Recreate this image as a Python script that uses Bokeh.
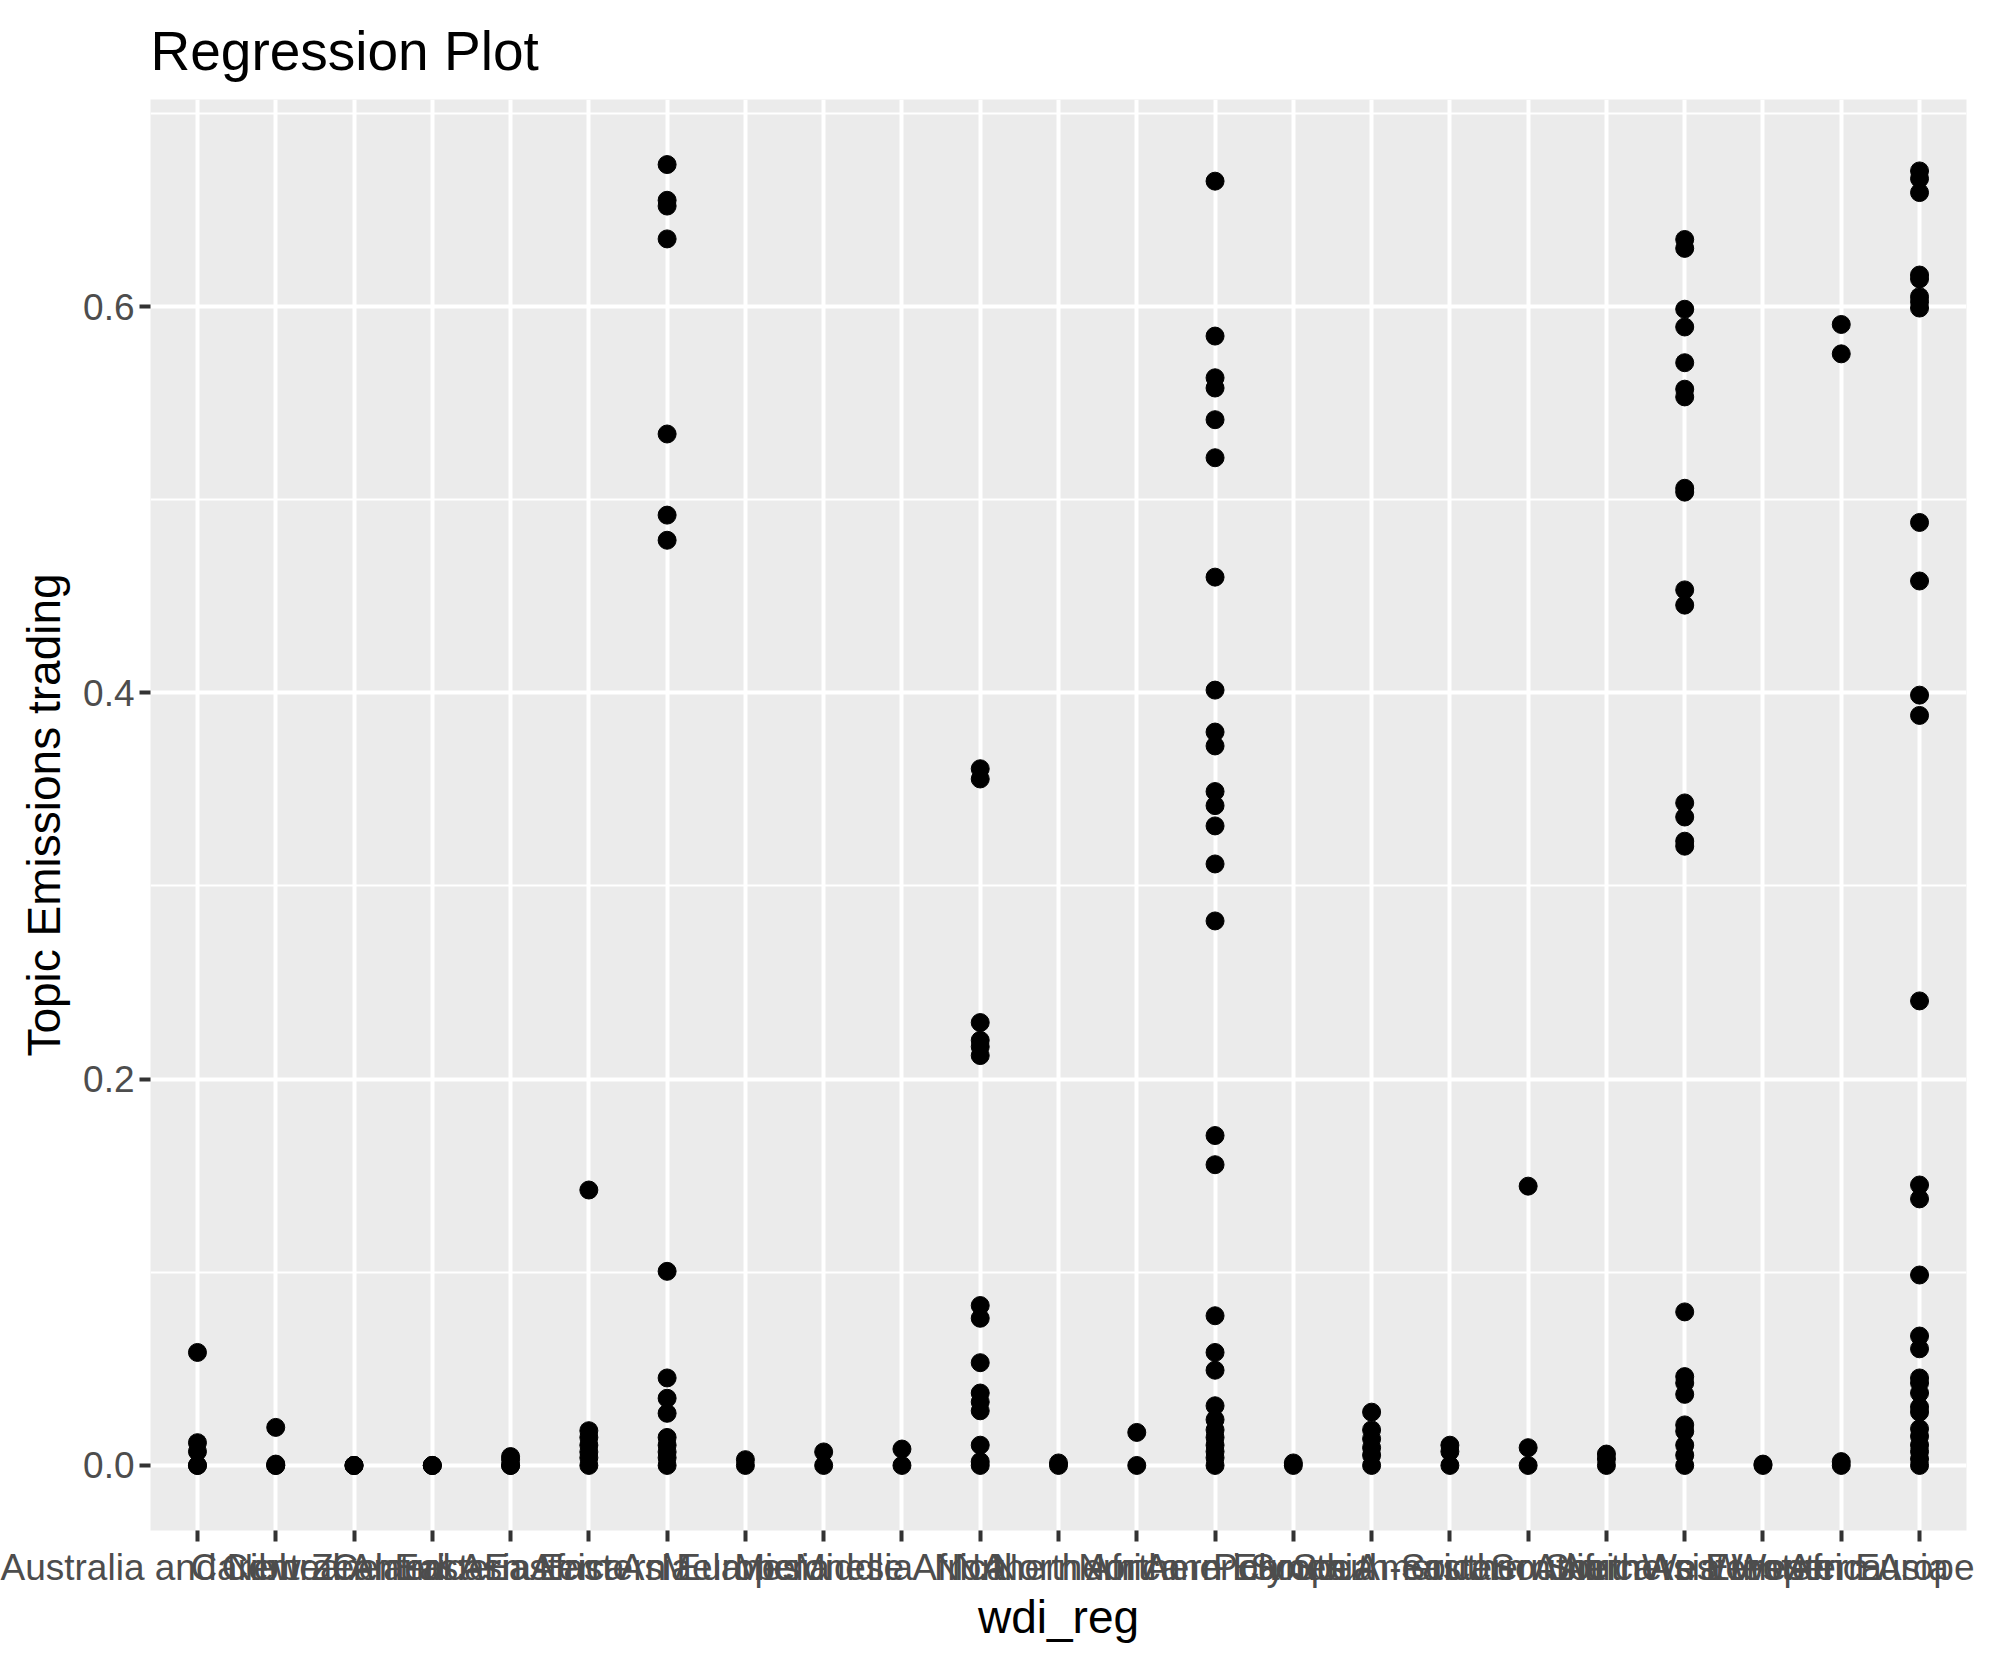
from bokeh.plotting import figure
from bokeh.models import FactorRange, Range1d, FixedTicker, PrintfTickFormatter, ColumnDataSource
from bokeh.embed import file_html
from bokeh.resources import INLINE

# ---- data ----
regions = [
    "Australia and New Zealand", "Caribbean", "Central America", "Central Asia",
    "Eastern Africa", "Eastern Asia", "Eastern Europe", "Melanesia", "Micronesia",
    "Middle Africa", "NA", "Northern Africa", "Northern America", "Northern Europe",
    "Polynesia", "South America", "South-eastern Asia", "Southern Africa",
    "Southern Asia", "Southern Europe", "Western Africa", "Western Asia", "Western Europe",
]

values = {
    "Australia and New Zealand": [0.0585, 0.0118, 0.0072, 0.0, 0.0],
    "Caribbean": [0.0197, 0.0007, 0.0, 0.0],
    "Central America": [0.0, 0.0, 0.0],
    "Central Asia": [0.0, 0.0, 0.0],
    "Eastern Africa": [0.0046, 0.003, 0.0, 0.0],
    "Eastern Asia": [0.1426, 0.018, 0.0145, 0.0105, 0.007, 0.004, 0.0],
    "Eastern Europe": [0.6735, 0.655, 0.652, 0.635, 0.534, 0.492, 0.479, 0.1005,
                       0.0453, 0.0348, 0.027, 0.0145, 0.0105, 0.007, 0.004, 0.0],
    "Melanesia": [0.003, 0.0],
    "Micronesia": [0.007, 0.0],
    "Middle Africa": [0.0085, 0.0],
    "NA": [0.3607, 0.3554, 0.2293, 0.2201, 0.2168, 0.2122, 0.0828, 0.0762, 0.0532,
           0.0375, 0.0329, 0.0283, 0.0105, 0.002, 0.0],
    "Northern Africa": [0.0013, 0.0],
    "Northern America": [0.0171, 0.0],
    "Northern Europe": [0.6649, 0.5847, 0.5631, 0.5578, 0.5414, 0.5217, 0.4599, 0.4014,
                        0.3797, 0.3725, 0.3489, 0.3416, 0.3311, 0.3114, 0.2819, 0.1708,
                        0.1557, 0.0775, 0.0585, 0.0493, 0.0309, 0.0237, 0.0184, 0.0145,
                        0.0105, 0.0072, 0.004, 0.0],
    "Polynesia": [0.0013, 0.0],
    "South America": [0.0276, 0.0184, 0.0138, 0.0092, 0.0053, 0.0],
    "South-eastern Asia": [0.0105, 0.0072, 0.0],
    "Southern Africa": [0.1446, 0.0092, 0.0],
    "Southern Asia": [0.0059, 0.0033, 0.0],
    "Southern Europe": [0.6347, 0.6301, 0.5986, 0.5894, 0.5709, 0.5572, 0.5532, 0.5059,
                        0.5039, 0.4533, 0.4454, 0.343, 0.3357, 0.3232, 0.3206, 0.0795,
                        0.046, 0.0427, 0.0368, 0.021, 0.0177, 0.0105, 0.0053, 0.0],
    "Western Africa": [0.0007, 0.0],
    "Western Asia": [0.5907, 0.5755, 0.002, 0.0],
    "Western Europe": [0.6702, 0.6662, 0.659, 0.6163, 0.6143, 0.6051, 0.6025, 0.5992,
                       0.4882, 0.4579, 0.3988, 0.3883, 0.2405, 0.1452, 0.138, 0.0986,
                       0.067, 0.0604, 0.0453, 0.0427, 0.0375, 0.0302, 0.0276, 0.019,
                       0.0151, 0.0105, 0.0072, 0.0033, 0.0],
}

y_ticks = [0.0, 0.2, 0.4, 0.6]
y_minor = [0.1, 0.3, 0.5, 0.7]

xs, ys = [], []
for r in regions:
    for v in values[r]:
        xs.append(r)
        ys.append(v)
src = ColumnDataSource(dict(x=xs, y=ys))

ymin, ymax = min(ys), max(ys)
pad = (ymax - ymin) * 0.05

p = figure(
    width=1974, height=1649,
    x_range=FactorRange(factors=regions, range_padding=0.1, range_padding_units="absolute"),
    y_range=Range1d(ymin - pad, ymax + pad),
    output_backend="svg", toolbar_location=None,
    title="Regression Plot",
    min_border_left=150, min_border_right=8, min_border_top=98, min_border_bottom=119,
)
p.background_fill_color = "#EBEBEB"
p.border_fill_color = "white"
p.outline_line_color = None

font = "Liberation Sans"
p.title.text_font = font
p.title.text_font_size = "55px"
p.title.text_font_style = "normal"
p.title.text_color = "black"
p.title.standoff = 35
p.title.align = "left"

for ax in (p.xaxis[0], p.yaxis[0]):
    ax.axis_line_color = None
    ax.major_tick_in = 0
    ax.major_tick_out = 11
    ax.major_tick_line_color = "#333333"
    ax.major_tick_line_width = 4
    ax.minor_tick_line_color = None
    ax.major_label_text_font = font
    ax.major_label_text_font_size = "37px"
    ax.major_label_text_color = "#4D4D4D"
    ax.axis_label_text_font = font
    ax.axis_label_text_font_size = "46px"
    ax.axis_label_text_font_style = "normal"
    ax.axis_label_text_color = "black"

p.xaxis.axis_label = "wdi_reg"
p.yaxis.axis_label = "Topic Emissions trading"
p.yaxis.ticker = FixedTicker(ticks=y_ticks, minor_ticks=y_minor)
p.yaxis.formatter = PrintfTickFormatter(format="%.1f")
p.yaxis.major_label_standoff = 5
p.yaxis.axis_label_standoff = 10
p.xaxis.major_label_standoff = 5
p.xaxis.axis_label_standoff = 0
p.xaxis.major_label_orientation = "horizontal"

p.xgrid.grid_line_color = "white"
p.xgrid.grid_line_width = 4
p.ygrid.grid_line_color = "white"
p.ygrid.grid_line_width = 4
p.ygrid.minor_grid_line_color = "white"
p.ygrid.minor_grid_line_width = 2

p.scatter(x="x", y="y", source=src, size=18, color="black", line_color="black")

open("out.html", "w").write(file_html(p, INLINE))
